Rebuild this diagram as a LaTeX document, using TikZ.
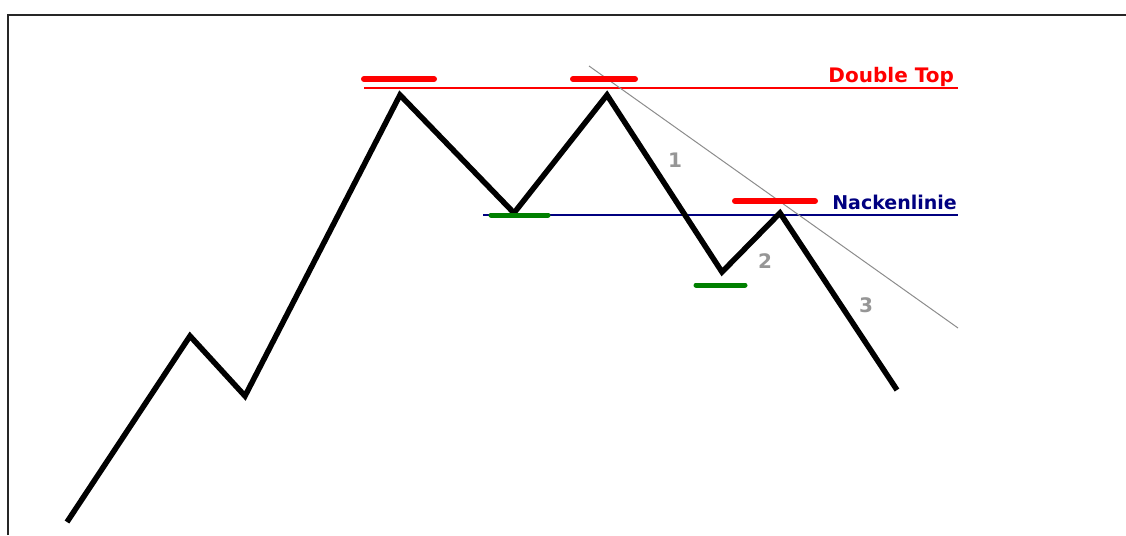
\documentclass[tikz,border=0pt]{standalone}
\usepackage{fontspec}
\setmainfont{DejaVu Sans}
\usetikzlibrary{positioning}
\definecolor{topred}{RGB}{255,0,0}
\definecolor{neckblue}{RGB}{0,0,128}
\definecolor{lowgreen}{RGB}{0,128,0}
\definecolor{trendgray}{RGB}{140,140,140}
\definecolor{numgray}{RGB}{150,150,150}

\begin{document}
\begin{tikzpicture}[x=1pt,y=-1pt,
  bar/.style={line width=6pt, line cap=round},
  lbl/.style={font=\fontsize{20}{22}\selectfont\bfseries, anchor=base east, inner sep=0pt},
  num/.style={font=\fontsize{20}{22}\selectfont\bfseries, text=numgray, inner sep=0pt}]
\useasboundingbox (0,0) rectangle (1126,535);
\draw[line width=2.5pt, black!85] (8,535) -- (8,15) -- (1126,15);
% price path
\foreach \n/\x/\y in {0/67/522,1/190/336,2/245/396,3/400/95,4/514/213,5/607/95,6/722/272,7/780/213,8/897/390}
  \coordinate (p\n) at (\x,\y);
% resistance, neckline and trend
\draw[topred, line width=2pt] (364,88) -- (958,88);
\draw[neckblue, line width=2pt] (483,215) -- (958,215);
\draw[trendgray, line width=1pt] (589,66) -- (958,328);
\draw[line width=5.5pt] (p0) -- (p1) -- (p2) -- (p3) -- (p4) -- (p5) -- (p6) -- (p7) -- (p8);
% markers
\draw[bar, topred] (364,79) -- (434,79);
\draw[bar, topred] (573,79) -- (635,79);
\draw[bar, topred] (735,201) -- (815,201);
\draw[bar, lowgreen, line width=5pt] (491,215) -- (548,215);
\draw[bar, lowgreen, line width=5pt] (696,285) -- (745,285);
% labels
\node[lbl, text=topred] (dtop) at (954,82) {Double Top};
\node[lbl, text=neckblue, font=\fontsize{19}{21}\selectfont\bfseries] (neck) at (957,209) {Nackenlinie};
\node[num] (n1) at (675,160) {1};
\node[num] (n2) at (765,261) {2};
\node[num] (n3) at (866,305) {3};
\end{tikzpicture}
\end{document}
